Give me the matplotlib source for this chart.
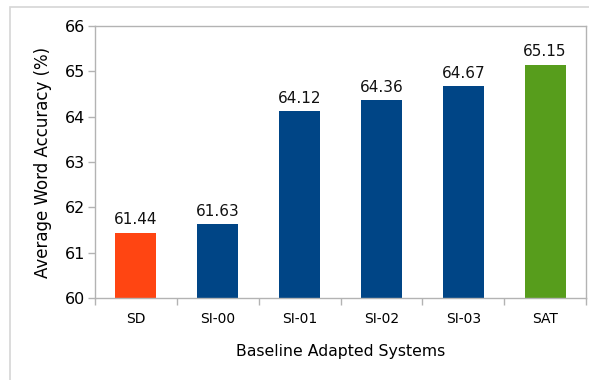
import matplotlib.pyplot as plt
import matplotlib.patches as mpatches
import numpy as np

# system names and average word accuracy (%)
systems = ['SD', 'SI-00', 'SI-01', 'SI-02', 'SI-03', 'SAT']
accuracy = [61.44, 61.63, 64.12, 64.36, 64.67, 65.15]
bar_colors = ['#ff4512', '#004586', '#004586', '#004586', '#004586', '#579d1c']
yticks = [60, 61, 62, 63, 64, 65, 66]

plt.rcParams['font.family'] = 'DejaVu Sans'
plt.rcParams['font.size'] = 10

W, H = 589, 380
fig = plt.figure(figsize=(W / 100, H / 100), dpi=100)

# light outer frame around the chart
frame = mpatches.Rectangle((10 / W, -0.1), 1.2, 1.1 - 7 / H, transform=fig.transFigure,
                           fill=False, edgecolor='#d6d6d6', linewidth=1.2)
fig.patches.append(frame)

ax = fig.add_axes([95 / W, 1 - 298 / H, (586 - 95) / W, (298 - 26) / H])

x = np.arange(len(systems))
bars = ax.bar(x, [a - 60 for a in accuracy], bottom=60, width=0.5, color=bar_colors)

for xi, a in zip(x, accuracy):
    ax.annotate(f'{a:.2f}', (xi, a), xytext=(0, 4), textcoords='offset points',
                ha='center', va='bottom', fontsize=11, color='#111111')

ax.set_xlim(-0.5, len(systems) - 0.5)
ax.set_ylim(60, 66)
ax.set_yticks(yticks)
ax.set_yticklabels([str(t) for t in yticks], fontsize=11.5)

# category labels centred, tick marks between categories
ax.set_xticks(x)
ax.set_xticklabels(systems, fontsize=10)
ax.tick_params(axis='x', length=0, pad=10)
ax.set_xticks(np.arange(-0.5, len(systems)), minor=True)
ax.tick_params(axis='x', which='minor', length=5, color='#b3b3b3', width=1)
ax.tick_params(axis='y', length=5, color='#b3b3b3', width=1, pad=2)

for s in ax.spines.values():
    s.set_color('#b3b3b3')
    s.set_linewidth(1)

ax.set_ylabel('Average Word Accuracy (%)', fontsize=12, labelpad=9)
ax.set_xlabel('Baseline Adapted Systems', fontsize=11.3, labelpad=13)

fig.savefig('out.png', dpi=100)
